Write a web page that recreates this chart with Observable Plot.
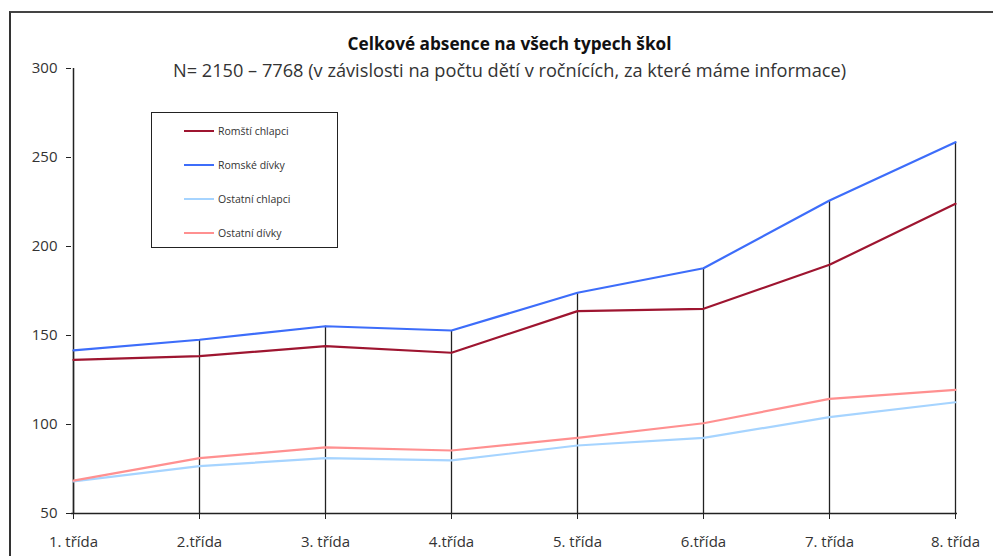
<!DOCTYPE html>
<html>
<head>
<meta charset="utf-8">
<script src="https://cdn.jsdelivr.net/npm/d3@7"></script>
<script src="https://cdn.jsdelivr.net/npm/@observablehq/plot@0.6"></script>
<style>
  html, body { margin: 0; padding: 0; background: #fff; }
  #wrap { position: relative; width: 993px; height: 556px; overflow: hidden; font-family: "Open Sans", "Liberation Sans", sans-serif; }
  #border { position: absolute; left: 9px; top: 11px; width: 1000px; height: 600px; border-left: 2px solid #333; border-top: 2px solid #444; }
  #chart { position: absolute; left: 0; top: 0; }
  #legend { position: absolute; left: 151px; top: 112px; width: 185px; height: 134px; border: 1.5px solid #222; background: #fff; font-size: 10.5px; color: #333; }
  .li { position: absolute; left: 32px; height: 12px; display: flex; align-items: center; }
  .sw { width: 30px; height: 2.5px; margin-right: 4px; }
</style>
</head>
<body>
<div id="wrap">
  <div id="border"></div>
  <div id="chart"></div>
  <div id="legend"></div>
</div>
<script>
const categories = ["1. třída", "2.třída", "3. třída", "4.třída", "5. třída", "6.třída", "7. třída", "8. třída"];
const seriesNames = ["Romští chlapci", "Romské dívky", "Ostatní chlapci", "Ostatní dívky"];
const romstiChlapci = [136.3, 138.4, 144, 140.3, 163.7, 165, 189.7, 224];
const romskeDivky = [141.6, 147.6, 155.2, 152.8, 174, 187.8, 225.8, 258.6];
const ostatniChlapci = [68, 76.6, 81.1, 79.8, 88.2, 92.5, 104.1, 112.5];
const ostatniDivky = [68.5, 81.1, 87.1, 85.4, 92.5, 100.7, 114.4, 119.5];
const seriesColors = ["#9e1530", "#3d6dfa", "#a6d4ff", "#ff9090"];
const yTicks = [50, 100, 150, 200, 250, 300];
const title = "Celkové absence na všech typech škol";
const subtitle = "N= 2150 – 7768 (v závislosti na počtu dětí v ročnících, za které máme informace)";

const allSeries = [romstiChlapci, romskeDivky, ostatniChlapci, ostatniDivky];
const rows = [];
allSeries.forEach((vals, si) => vals.forEach((v, i) => rows.push({cat: categories[i], value: v, series: seriesNames[si]})));
const drops = categories.map((c, i) => ({cat: c, top: d3.max(allSeries, s => s[i])}));

// draw order: others first, then roma
const drawOrder = [2, 3, 0, 1];

const plot = Plot.plot({
  width: 993,
  height: 556,
  marginLeft: 71,
  marginRight: 36,
  marginTop: 68,
  marginBottom: 43,
  style: {fontFamily: "'Open Sans', 'Liberation Sans', sans-serif", background: "transparent", overflow: "visible"},
  x: {type: "point", domain: categories, padding: 0},
  y: {domain: [50, 300]},
  color: {domain: seriesNames, range: seriesColors},
  marks: [
    Plot.ruleX(drops, {x: "cat", y1: 50, y2: "top", stroke: "#222", strokeWidth: 1.3}),
    Plot.ruleX([categories[0]], {stroke: "#222", strokeWidth: 1.5}),
    Plot.ruleY([50], {stroke: "#222", strokeWidth: 1.5}),
    ...drawOrder.map(si => Plot.line(rows.filter(r => r.series === seriesNames[si]), {
      x: "cat", y: "value", stroke: seriesColors[si], strokeWidth: 2.2
    })),
    Plot.axisY({ticks: yTicks, tickSize: 5, tickPadding: 9, fontSize: 15, fill: "#333", stroke: "#222", label: null}),
    Plot.axisX({tickSize: 6, tickPadding: 17, fontSize: 15, fill: "#333", stroke: "#222", label: null}),
    Plot.text([title], {frameAnchor: "top", dy: -31, fontSize: 17.2, fontWeight: "bold", fill: "#111", dx: -5}),
    Plot.text([subtitle], {frameAnchor: "top", dy: -4, fontSize: 18.2, fill: "#333", dx: -5})
  ]
});
document.getElementById("chart").appendChild(plot);

const legend = document.getElementById("legend");
const legendTops = [12, 46, 80, 114];
seriesNames.forEach((name, i) => {
  const item = document.createElement("div");
  item.className = "li";
  item.style.top = legendTops[i] + "px";
  const sw = document.createElement("div");
  sw.className = "sw";
  sw.style.background = seriesColors[i];
  const t = document.createElement("span");
  t.textContent = name;
  item.appendChild(sw);
  item.appendChild(t);
  legend.appendChild(item);
});
</script>
</body>
</html>
